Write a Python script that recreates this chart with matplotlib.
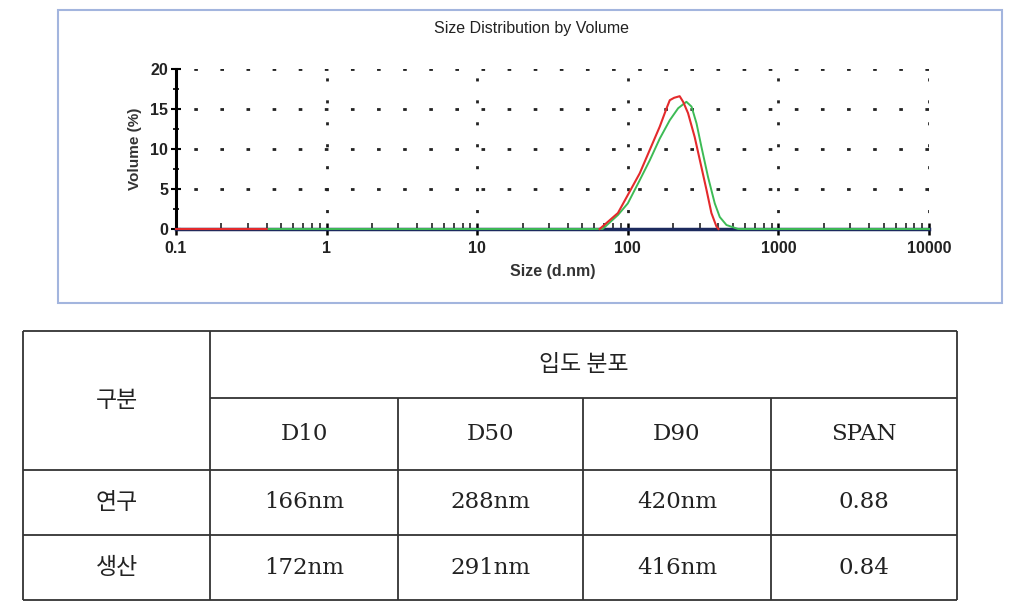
import numpy as np
import matplotlib.pyplot as plt
from matplotlib.patches import Rectangle
from matplotlib.ticker import LogLocator, NullFormatter, MultipleLocator

# courbes (taille en nm, volume en %)
red_size = [0.1, 0.4, np.nan, 65, 86, 100, 120, 140, 163, 181, 190, 203, 221, 233, 251, 278, 301, 333, 359, 388, 400]
red_vol = [0, 0, np.nan, 0, 2.0, 4.25, 6.96, 9.9, 12.8, 15.1, 16.1, 16.4, 16.6, 15.9, 14.5, 11.5, 8.6, 4.9, 2.0, 0.3, 0]

green_size = [0.1, 68, 86, 100, 120, 140, 163, 190, 216, 245, 265, 286, 308, 341, 378, 408, 452, 540, 10000]
green_vol = [0, 0, 1.75, 3.2, 6.1, 8.6, 11.3, 13.6, 15.1, 15.9, 15.3, 13.2, 10.3, 6.5, 3.2, 1.5, 0.5, 0, 0]

x_ticks = [0.1, 1, 10, 100, 1000, 10000]
x_labels = ["0.1", "1", "10", "100", "1000", "10000"]
y_ticks = [0, 5, 10, 15, 20]

# tableau
row_head = ["연구", "생산"]
col_head = ["D10", "D50", "D90", "SPAN"]
cells = [["166nm", "288nm", "420nm", "0.88"],
         ["172nm", "291nm", "416nm", "0.84"]]

W, H = 1030, 614
fig = plt.figure(figsize=(W / 100, H / 100), dpi=100)


def px(x0, y0, x1, y1):
    # rectangle en pixels (origine en haut) -> fraction de figure
    return [x0 / W, 1 - y1 / H, (x1 - x0) / W, (y1 - y0) / H]


# cadre du graphique
fig.patches.append(Rectangle((58 / W, 1 - 303 / H), (1002 - 58) / W, (303 - 10) / H,
                             transform=fig.transFigure, fill=False,
                             edgecolor="#a3b5de", lw=1.5))

ax = fig.add_axes(px(176, 69, 929, 229))
ax.set_xscale("log")
ax.set_xlim(0.1, 10000)
ax.set_ylim(0, 20)

# grille en pointillés
for yv in y_ticks[1:]:
    ax.axhline(yv, color="#222222", lw=2.0, ls=(3, (1.3, 8.1)), zorder=1)
for xv in x_ticks[1:]:
    ax.axvline(xv, color="#222222", lw=2.0, ls=(2, (1.1, 6.8)), zorder=1)

ax.plot(green_size, green_vol, color="#3dbb55", lw=1.4, zorder=4, clip_on=False)
ax.plot(red_size, red_vol, color="#e42a2c", lw=1.5, zorder=5, clip_on=False)

for s in ["top", "right"]:
    ax.spines[s].set_visible(False)
ax.spines["left"].set_color("black")
ax.spines["left"].set_linewidth(2.2)
ax.spines["bottom"].set_color("#1c2a5e")
ax.spines["bottom"].set_linewidth(2.5)

ax.set_xticks(x_ticks)
ax.set_xticklabels(x_labels)
ax.xaxis.set_minor_locator(LogLocator(base=10, subs=np.arange(2, 10), numticks=20))
ax.xaxis.set_minor_formatter(NullFormatter())
ax.set_yticks(y_ticks)
ax.yaxis.set_minor_locator(MultipleLocator(2.5))

ax.tick_params(axis="x", which="major", direction="inout", length=9, width=1.8,
               color="black", pad=4)
ax.tick_params(axis="x", which="minor", direction="in", length=4, width=1.2, color="#222222")
ax.tick_params(axis="y", which="major", direction="inout", length=7, width=1.5, pad=2)
ax.tick_params(axis="y", which="minor", direction="inout", length=5, width=1.2)

for lab in ax.get_xticklabels() + ax.get_yticklabels():
    lab.set_fontfamily("Liberation Sans")
    lab.set_fontsize(11.5)
    lab.set_fontweight("bold")
    lab.set_color("#222222")

ax.set_xlabel("Size (d.nm)", fontsize=11.5, family="Liberation Sans", fontweight="bold",
              color="#333333", labelpad=6)
ax.set_ylabel("Volume (%)", fontsize=11, family="Liberation Sans", fontweight="bold",
              color="#333333", labelpad=6)
fig.text(531 / W, 1 - 28 / H, "Size Distribution by Volume", ha="center", va="center",
         fontsize=11.5, family="Liberation Sans", color="#222222")

# tableau en coordonnées pixels
tab = fig.add_axes([0, 0, 1, 1])
tab.set_xlim(0, W)
tab.set_ylim(H, 0)
tab.axis("off")

col_x = [23, 210, 398, 583, 771, 957]
row_y = [331, 398, 470, 535, 600]
lc = "#333333"

tab.hlines([row_y[0], row_y[2], row_y[3], row_y[4]], col_x[0], col_x[-1], color=lc, lw=1.3)
tab.hlines(row_y[1], col_x[1], col_x[-1], color=lc, lw=1.3)
tab.vlines([col_x[0], col_x[1], col_x[-1]], row_y[0], row_y[-1], color=lc, lw=1.3)
tab.vlines(col_x[2:-1], row_y[1], row_y[-1], color=lc, lw=1.3)

tfont = ["DejaVu Serif", "Noto Sans CJK KR"]
kfont = ["Noto Sans CJK KR", "DejaVu Serif"]
ts = 16.5


def cx(i):
    return (col_x[i] + col_x[i + 1]) / 2


def cy(j):
    return (row_y[j] + row_y[j + 1]) / 2


tab.text(cx(0), (row_y[0] + row_y[2]) / 2, "구분", ha="center", va="center",
         fontsize=ts, family=kfont, color="#222222", fontweight="light")
tab.text((col_x[1] + col_x[-1]) / 2, cy(0), "입도 분포", ha="center", va="center",
         fontsize=ts, family=kfont, color="#222222", fontweight="light")
for i, c in enumerate(col_head):
    tab.text(cx(i + 1), cy(1), c, ha="center", va="center", fontsize=ts,
             family=tfont, color="#222222")
for j, r in enumerate(row_head):
    tab.text(cx(0), cy(j + 2), r, ha="center", va="center", fontsize=ts,
             family=kfont, color="#222222", fontweight="light")
    for i, v in enumerate(cells[j]):
        tab.text(cx(i + 1), cy(j + 2), v, ha="center", va="center", fontsize=ts,
                 family=tfont, color="#222222")

fig.savefig("out.png", dpi=100)
